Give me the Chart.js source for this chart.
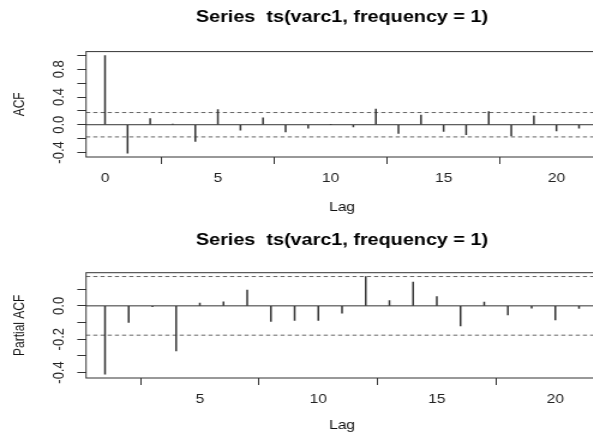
<!DOCTYPE html>
<html>
<head>
<meta charset="utf-8">
<script src="https://cdn.jsdelivr.net/npm/chart.js@4.4.1/dist/chart.umd.min.js"></script>
<style>
  html, body { margin: 0; padding: 0; background: #fff; overflow: hidden; }
  body { width: 593px; height: 437px; position: relative; }
  /* the original picture is stretched sideways, so the canvases are stretched the same way */
  canvas { position: absolute; left: 0; transform: scaleX(1.2); transform-origin: 0 0; }
  #acf-chart { top: 0; }
  #pacf-chart { top: 221px; }
</style>
</head>
<body>
<canvas id="acf-chart" width="500" height="218"></canvas>
<canvas id="pacf-chart" width="500" height="216"></canvas>
<script>
// Values
const titleText = "Series  ts(varc1, frequency = 1)";
const confLimit = 0.176;

const acfLags = [0, 1, 2, 3, 4, 5, 6, 7, 8, 9, 10, 11, 12, 13, 14, 15, 16, 17, 18, 19, 20, 21];
const acfValues = [1.0, -0.41, 0.09, 0.01, -0.24, 0.22, -0.08, 0.1, -0.105, -0.05, 0.004, -0.03,
  0.225, -0.125, 0.14, -0.095, -0.145, 0.19, -0.16, 0.13, -0.09, -0.05];
const acfXRange = [-0.84, 21.84];
const acfYRange = [-0.466, 1.056];
const acfXTicks = [0, 5, 10, 15, 20];
const acfYTicks = [-0.4, -0.2, 0, 0.2, 0.4, 0.6, 0.8, 1.0];
const acfYLabels = ["-0.4", "", "0.0", "", "0.4", "", "0.8", ""];

const pacfLags = [1, 2, 3, 4, 5, 6, 7, 8, 9, 10, 11, 12, 13, 14, 15, 16, 17, 18, 19, 20, 21];
const pacfValues = [-0.41, -0.1, -0.005, -0.27, 0.016, 0.024, 0.095, -0.094, -0.088, -0.088, -0.044,
  0.175, 0.032, 0.143, 0.056, -0.12, 0.022, -0.054, -0.014, -0.084, -0.016];
const pacfXRange = [0.2, 21.8];
const pacfYRange = [-0.433, 0.199];
const pacfXTicks = [5, 10, 15, 20];
const pacfYTicks = [-0.4, -0.3, -0.2, -0.1, 0, 0.1];
const pacfYLabels = ["-0.4", "", "-0.2", "", "0.0", ""];

const FONT = "'Liberation Sans', Arial, Helvetica, sans-serif";

// R style box round the plot region
const boxPlugin = {
  id: "box",
  afterDraw(chart) {
    const { ctx, chartArea: a } = chart;
    ctx.save();
    ctx.strokeStyle = "#333";
    ctx.lineWidth = 1;
    ctx.strokeRect(a.left, a.top, a.right - a.left, a.bottom - a.top);
    ctx.restore();
  },
};

function hLine(xr, y) {
  return [{ x: xr[0], y: y }, { x: xr[1], y: y }];
}

function makePanel(id, p) {
  const ctx = document.getElementById(id).getContext("2d");
  return new Chart(ctx, {
    type: "bar",
    data: {
      datasets: [
        {
          type: "bar",
          data: p.lags.map((l, i) => ({ x: l, y: p.values[i] })),
          backgroundColor: "#333",
          borderWidth: 0,
          barThickness: 0.85,
        },
        { type: "line", data: hLine(p.xRange, 0), borderColor: "#333", borderWidth: 1, pointRadius: 0 },
        { type: "line", data: hLine(p.xRange, confLimit), borderColor: "#666", borderWidth: 1, borderDash: [3.5, 2.5], pointRadius: 0 },
        { type: "line", data: hLine(p.xRange, -confLimit), borderColor: "#666", borderWidth: 1, borderDash: [3.5, 2.5], pointRadius: 0 },
      ],
    },
    options: {
      responsive: false,
      animation: false,
      layout: { padding: { left: 9.05, right: 1.7, top: p.top, bottom: p.bottom } },
      plugins: { legend: { display: false }, tooltip: { enabled: false } },
      scales: {
        x: {
          type: "linear",
          position: "bottom",
          min: p.xRange[0],
          max: p.xRange[1],
          offset: false,
          afterBuildTicks: (s) => { s.ticks = p.xTicks.map((v) => ({ value: v })); },
          ticks: {
            autoSkip: false, maxRotation: 0, padding: 7, color: "#222",
            font: { family: FONT, size: 13 },
            callback: (v) => String(v),
          },
          grid: { drawOnChartArea: false, tickLength: 7, color: "#333" },
          border: { display: false },
          title: {
            display: true, text: "Lag", color: "#111",
            font: { family: FONT, size: 13 },
            padding: { top: p.lagPad, bottom: 0 },
          },
        },
        // this axis only carries the main title, so it is centred over the plot
        top: {
          type: "linear",
          position: "top",
          min: p.xRange[0],
          max: p.xRange[1],
          ticks: { display: false },
          grid: { display: false, drawTicks: false },
          border: { display: false },
          title: {
            display: true, text: titleText, color: "#000",
            font: { family: FONT, size: 16.5, weight: "bold" },
            padding: { top: p.titlePad[0], bottom: p.titlePad[1] },
          },
        },
        y: {
          type: "linear",
          min: p.yRange[0],
          max: p.yRange[1],
          afterBuildTicks: (s) => { s.ticks = p.yTicks.map((v) => ({ value: v })); },
          ticks: {
            autoSkip: false, minRotation: 90, maxRotation: 90, crossAlign: "center",
            padding: 4, color: "#222",
            font: { family: FONT, size: 13 },
            callback: (v, i) => p.yLabels[i],
          },
          grid: { drawOnChartArea: false, tickLength: 7.3, color: "#333" },
          border: { display: false },
          title: {
            display: true, text: p.yTitle, color: "#111",
            font: { family: FONT, size: 12 },
            padding: { top: 0, bottom: 17.35 },
          },
        },
      },
    },
    plugins: [boxPlugin],
  });
}

makePanel("acf-chart", {
  lags: acfLags, values: acfValues, xRange: acfXRange, yRange: acfYRange,
  xTicks: acfXTicks, yTicks: acfYTicks, yLabels: acfYLabels, yTitle: "ACF",
  top: 0, bottom: 3.2, lagPad: 5.6, titlePad: [7.8, 24],
});

makePanel("pacf-chart", {
  lags: pacfLags, values: pacfValues, xRange: pacfXRange, yRange: pacfYRange,
  xTicks: pacfXTicks, yTicks: pacfYTicks, yLabels: pacfYLabels, yTitle: "Partial ACF",
  top: 0.5, bottom: 4.2, lagPad: 2.6, titlePad: [9.4, 22],
});
</script>
</body>
</html>
